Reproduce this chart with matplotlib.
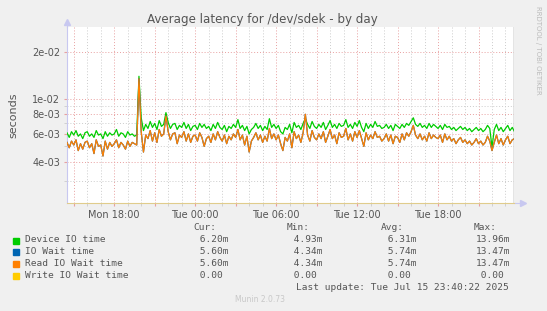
import matplotlib.pyplot as plt
from matplotlib.ticker import FixedLocator, FixedFormatter, NullFormatter

# samples every 10 minutes, Mon 14:30 -> Tue 23:40 (values in ms)
device_io = [
    6.1, 5.7, 6.2,
    5.9, 6.3, 5.8, 6.0, 5.6, 6.1,
    6.2, 5.8, 6.0, 5.7, 6.3, 5.9,
    6.0, 5.6, 6.2, 5.8, 6.1, 5.9,
    6.0, 6.4, 5.8, 6.1, 6.0, 5.7,
    6.2, 5.9, 6.0, 5.8, 5.9, 13.96,
    7.6, 6.3, 6.9, 6.5, 7.2, 6.6,
    7.0, 6.4, 7.3, 6.7, 6.9, 8.2,
    7.1, 6.5, 6.9, 7.0, 6.4, 6.8,
    6.6, 7.1, 6.5, 6.9, 6.3, 6.7,
    6.8, 6.4, 7.0, 6.6, 6.9, 6.5,
    6.7, 6.3, 6.9, 6.5, 7.1, 6.6,
    6.4, 6.8, 6.2, 6.7, 6.5, 6.9,
    6.6, 7.4, 6.5, 6.8, 6.3, 6.7,
    6.0, 6.4, 6.6, 7.0, 6.5, 6.8,
    6.3, 6.7, 6.4, 7.5, 6.6, 6.9,
    6.5, 6.8, 6.2, 6.0, 6.6, 6.4,
    6.9, 6.1, 7.1, 6.6, 6.8, 6.4,
    7.0, 7.5, 6.9, 6.5, 7.2, 6.7,
    6.5, 6.9, 6.6, 7.1, 6.4, 6.8,
    7.3, 6.6, 6.9, 6.5, 7.0, 6.7,
    6.8, 7.4, 6.6, 6.9, 6.5, 7.1,
    6.7, 7.3, 6.6, 6.2, 7.0, 6.5,
    6.9, 6.6, 7.2, 6.7, 6.8, 6.5,
    6.6, 6.9, 6.5, 6.8, 6.3, 6.9,
    6.7, 6.5, 6.9, 6.6, 7.0, 6.8,
    7.2, 7.6, 6.9, 6.7, 7.0, 6.6,
    6.8, 6.5, 7.0, 6.6, 6.9, 6.7,
    6.5, 6.8, 6.4, 6.9, 6.6, 6.7,
    6.4, 6.6, 6.3, 6.5, 6.7, 6.4,
    6.6, 6.3, 6.5, 6.2, 6.4, 6.6,
    6.3, 6.5, 6.2, 6.4, 6.8, 6.5,
    4.93, 6.4, 6.9, 6.3, 6.6, 6.2,
    6.5, 6.8, 6.3, 6.6, 6.20,
]
read_wait = [
    5.3, 4.9, 5.4,
    5.1, 5.5, 4.7, 5.2, 4.8, 5.3,
    5.4, 4.9, 5.2, 4.5, 5.5, 5.0,
    5.1, 4.34, 5.4, 4.8, 5.3, 5.0,
    5.2, 5.5, 4.9, 5.3, 5.1, 4.8,
    5.4, 5.0, 5.3, 5.2, 5.1, 13.47,
    6.2, 4.6, 5.9, 5.6, 6.3, 5.4,
    6.1, 5.3, 6.4, 5.8, 6.0, 7.8,
    6.2, 5.5, 6.0, 6.1, 5.2, 5.9,
    5.7, 6.2, 5.4, 6.0, 5.3, 5.8,
    5.9, 5.4, 6.1, 5.7, 5.0, 5.6,
    5.8, 5.3, 6.0, 5.5, 6.2, 5.7,
    5.4, 5.9, 5.2, 5.8, 5.5, 6.0,
    5.7, 6.4, 5.5, 5.9, 5.1, 5.8,
    4.6, 5.4, 5.7, 6.1, 5.5, 5.9,
    5.3, 5.8, 5.4, 6.5, 5.6, 6.0,
    5.5, 5.9, 5.2, 4.7, 5.7, 5.4,
    6.0, 4.9, 6.2, 5.6, 5.9, 5.3,
    6.1, 8.0, 5.9, 5.4, 6.3, 5.7,
    5.5, 6.0, 5.6, 6.2, 5.3, 5.8,
    6.4, 5.6, 5.9, 5.2, 6.1, 5.7,
    5.8, 6.5, 5.5, 6.0, 5.4, 6.2,
    5.7, 6.3, 5.6, 5.0, 6.1, 5.5,
    5.9, 5.6, 6.2, 5.7, 5.8, 5.4,
    5.6, 6.0, 5.4, 5.9, 5.2, 5.8,
    5.7, 5.3, 6.0, 5.5, 6.1, 5.8,
    6.2, 6.8, 5.9, 5.6, 6.0, 5.5,
    5.8, 5.4, 6.1, 5.6, 5.9, 5.7,
    5.6, 5.9, 5.3, 6.0, 5.5, 5.8,
    5.4, 5.6, 5.2, 5.5, 5.7, 5.3,
    5.5, 5.2, 5.4, 5.1, 5.3, 5.6,
    5.2, 5.4, 5.1, 5.3, 5.8, 5.4,
    4.7, 5.3, 5.9, 5.2, 5.6, 5.1,
    5.5, 5.8, 5.2, 5.5, 5.60,
]
io_wait = read_wait  # IO wait = read + write, write is 0

start_hour = 14.5  # Mon 14:30, hours counted from Mon 00:00
hours = [start_hour + i / 6 for i in range(len(device_io))]

legend_names = ["Device IO time", "IO Wait time", "Read IO Wait time", "Write IO Wait time"]
legend_colors = ["#00CC00", "#0066B3", "#FF8000", "#FFCC00"]
cur = ["6.20m", "5.60m", "5.60m", "0.00 "]
mins = ["4.93m", "4.34m", "4.34m", "0.00 "]
avgs = ["6.31m", "5.74m", "5.74m", "0.00 "]
maxs = ["13.96m", "13.47m", "13.47m", "0.00 "]

x_ticks = [15, 18, 21, 24, 27, 30, 33, 36, 39, 42, 45]
x_labels = ["", "Mon 18:00", "", "Tue 00:00", "", "Tue 06:00", "", "Tue 12:00", "", "Tue 18:00", ""]
y_ticks = [4e-3, 6e-3, 8e-3, 1e-2, 2e-2]
y_labels = ["4e-03", "6e-03", "8e-03", "1e-02", "2e-02"]
y_minor = [3e-3, 5e-3, 7e-3, 9e-3]

W, H = 547, 311
bg = "#F0F0F0"
txt = "#555555"
fig = plt.figure(figsize=(W / 100, H / 100), dpi=100, facecolor=bg)
ax = fig.add_axes([67 / W, 1 - 203 / H, (514 - 67) / W, (203 - 27) / H])
ax.set_facecolor("white")

dev = [v * 1e-3 for v in device_io]
iow = [v * 1e-3 for v in io_wait]
rdw = [v * 1e-3 for v in read_wait]
ax.plot(hours, dev, color=legend_colors[0], lw=0.9, zorder=3)
ax.plot(hours, iow, color=legend_colors[1], lw=0.9, zorder=3)
ax.plot(hours, rdw, color=legend_colors[2], lw=0.9, zorder=4)

ax.set_yscale("log")
ax.set_ylim(2.18e-3, 2.875e-2)
ax.set_xlim(14.5, 47.63)

ax.xaxis.set_major_locator(FixedLocator(x_ticks))
ax.xaxis.set_major_formatter(FixedFormatter(x_labels))
ax.xaxis.set_minor_locator(FixedLocator([h for h in range(15, 48) if h % 3]))
ax.yaxis.set_major_locator(FixedLocator(y_ticks))
ax.yaxis.set_major_formatter(FixedFormatter(y_labels))
ax.yaxis.set_minor_locator(FixedLocator(y_minor))
ax.yaxis.set_minor_formatter(NullFormatter())

ax.grid(which="major", color="#E8A0A0", linestyle=(0, (1, 2)), lw=0.7)
ax.grid(which="minor", color="#CCCCCC", linestyle=(0, (1, 2)), lw=0.7)
ax.set_axisbelow(True)
ax.tick_params(which="major", length=2, color="#E8A0A0", labelsize=7, labelcolor=txt, pad=3)
ax.tick_params(which="minor", length=2, color="#CCCCCC")

for s in ["top", "right"]:
    ax.spines[s].set_visible(False)
ax.spines["left"].set_color("#C8C8F0")
ax.spines["bottom"].set_color("#E0CC8C")
ax.axvline(47.63, color="#777777", lw=1, zorder=5)
# axis arrows
ax.plot([0], [1.03], marker="^", ms=4, color="#C8C8F0", transform=ax.transAxes, clip_on=False)
ax.plot([0, 0], [1.0, 1.03], color="#C8C8F0", lw=0.8, transform=ax.transAxes, clip_on=False)
ax.plot([1.02], [0], marker=">", ms=4, color="#C8C8F0", transform=ax.transAxes, clip_on=False)
ax.plot([1.0, 1.02], [0, 0], color="#C8C8F0", lw=0.8, transform=ax.transAxes, clip_on=False)

ax.set_ylabel("seconds", fontsize=8, color=txt, labelpad=10)

def px(x, y):
    return x / W, 1 - y / H

fig.text(*px(262, 19), "Average latency for /dev/sdek - by day", ha="center", va="center",
         fontsize=8.6, color=txt)
fig.text(*px(538, 6), "RRDTOOL / TOBI OETIKER", rotation=-90, ha="center", va="top",
         fontsize=5, color="#BBBBBB")

mono = dict(family="DejaVu Sans Mono", fontsize=6.8, color=txt, va="center")
for x_end, head in [(216, "Cur:"), (310, "Min:"), (404, "Avg:"), (497, "Max:")]:
    fig.text(*px(x_end, 228), head, ha="right", **mono)
for i, name in enumerate(legend_names):
    y = 240 + i * 11.9
    fig.patches.append(plt.Rectangle(px(13, y + 3.5), 6 / W, 6 / H, transform=fig.transFigure,
                                     color=legend_colors[i]))
    fig.text(*px(25, y), name, ha="left", **mono)
    for x_end, col in [(228, cur), (322, mins), (416, avgs), (509, maxs)]:
        fig.text(*px(x_end - 6 * 5.6, y), col[i].rjust(6), ha="left", **mono)
fig.text(*px(509, 288), "Last update: Tue Jul 15 23:40:22 2025", ha="right", **mono)
fig.text(*px(260, 300), "Munin 2.0.73", ha="center", va="center", fontsize=5.5, color="#C8C8C8")

fig.savefig("out.png", dpi=100, facecolor=bg)
